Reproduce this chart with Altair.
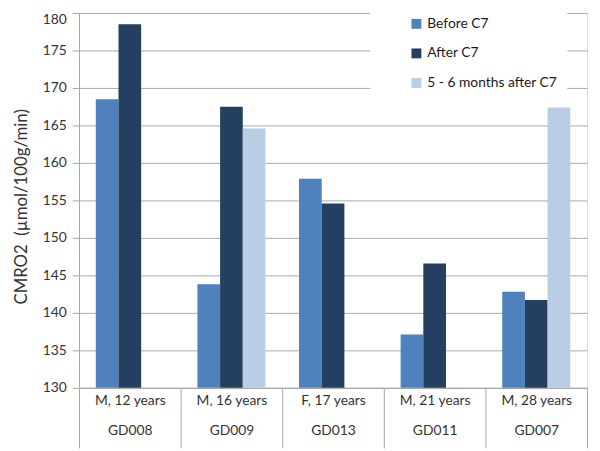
import altair as alt
import pandas as pd

groups = ["GD008", "GD009", "GD013", "GD011", "GD007"]
subjects = ["M, 12 years", "M, 16 years", "F, 17 years", "M, 21 years", "M, 28 years"]
series = ["Before C7", "After C7", "5 - 6 months after C7"]
before = [168.5, 143.8, 157.9, 137.1, 142.8]
after = [178.5, 167.5, 154.6, 146.6, 141.7]
months = [None, 164.6, None, None, 167.4]
colors = ["#4F81BD", "#243F60", "#B9CDE5"]
y_ticks = list(range(130, 181, 5))

cats = [s + "|" + g for s, g in zip(subjects, groups)]
rows = []
for i, key in enumerate(cats):
    for s, vals in zip(series, [before, after, months]):
        if vals[i] is not None:
            rows.append({"cat": key, "series": s, "value": vals[i]})
df = pd.DataFrame(rows)

font = "Lato"
txt = "#333333"
line = "#A6A6A6"
nb = "\u00a0" * 10

chart = alt.Chart(df).mark_bar(clip=True).encode(
    x=alt.X(
        "cat:N",
        sort=cats,
        scale=alt.Scale(domain=cats, paddingInner=0, paddingOuter=0),
        axis=alt.Axis(
            title=None,
            labelExpr="split(datum.label, '|')",
            labelAngle=0,
            labelLineHeight=30,
            labelPadding=-55,
            labelBaseline="top",
            labelFontSize=14,
            labelFont=font,
            labelColor=txt,
            tickSize=61,
            tickBand="extent",
            tickColor=line,
            domainColor=line,
        ),
    ),
    xOffset=alt.XOffset(
        "series:N",
        sort=series,
        scale=alt.Scale(domain=series, paddingInner=0, paddingOuter=0.74),
    ),
    y=alt.Y(
        "value:Q",
        scale=alt.Scale(domain=[130, 180], zero=False, nice=False),
        axis=alt.Axis(
            values=y_ticks,
            title="CMRO2\u00a0 (µmol/100g/min)",
            titleFont=font,
            titleFontSize=17,
            titleFontWeight="normal",
            titleColor=txt,
            titleX=-58,
            titleY=196,
            titleBaseline="middle",
            labelFont=font,
            labelFontSize=14,
            labelColor=txt,
            labelPadding=6,
            labelBaseline={"condition": {"test": "datum.value >= 180", "value": "top"}, "value": "middle"},
            tickSize=7,
            tickColor=line,
            domainColor=line,
            gridColor="#AAAAAA",
        ),
    ),
    color=alt.Color(
        "series:N",
        sort=series,
        scale=alt.Scale(domain=series, range=colors),
        legend=alt.Legend(
            title=None,
            orient="none",
            legendX=295,
            legendY=-6,
            padding=10,
            symbolOffset=30,
            fillColor="white",
            symbolType="square",
            symbolSize=100,
            symbolStrokeWidth=0,
            rowPadding=16,
            labelFont=font,
            labelFontSize=14,
            labelColor="#1a1a1a",
            labelExpr="datum.label + '" + nb + "'",
            labelLimit=400,
        ),
    ),
).properties(
    width=515,
    height=380,
    autosize=alt.AutoSizeParams(type="none"),
    padding={"left": 72, "top": 2, "right": 5, "bottom": 61},
).configure_view(stroke=None).configure(background="white")

chart.save("out.html", embed_options={"renderer": "svg", "actions": False})
